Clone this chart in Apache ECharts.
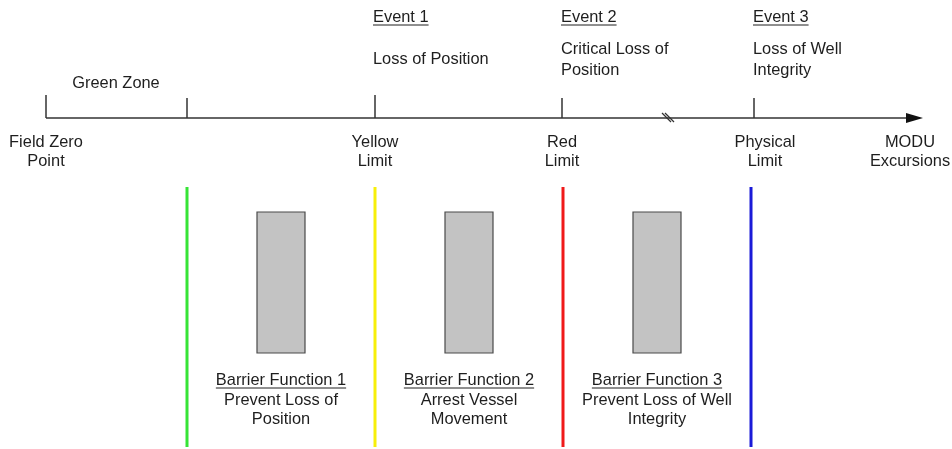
<!DOCTYPE html>
<html><head><meta charset="utf-8">
<script src="https://cdn.jsdelivr.net/npm/echarts@6/dist/echarts.min.js"></script>
<style>html,body{margin:0;padding:0;background:#fff}#c{width:952px;height:449px}</style>
</head><body><div id="c"></div>
<script>
// ---- data (diagram units on a 0..952 x 0..449 value plane) ----
const axisRange = [46, 923];
const axisLevel = [118];
const tickPositions = [46, 187, 375, 562, 754];
const tickTops = [95, 98, 95, 98, 98];
const tickLabels = ['Field Zero\nPoint', 'Yellow\nLimit', 'Red\nLimit', 'Physical\nLimit', 'MODU\nExcursions'];
const tickLabelPositions = [46, 375, 562, 765, 910];
const zoneLabels = ['Green Zone'];
const zoneLabelPositions = [116];
const eventTitles = ['Event 1', 'Event 2', 'Event 3'];
const eventDescriptions = ['Loss of Position', 'Critical Loss of\nPosition', 'Loss of Well\nIntegrity'];
const eventPositions = [373, 561, 753];
const breakPositions = [668];
const limitNames = ['Green', 'Yellow', 'Red', 'Physical'];
const limitPositions = [187, 375, 563, 751];
const limitSpan = [187, 447];
const barrierTitles = ['Barrier Function 1', 'Barrier Function 2', 'Barrier Function 3'];
const barrierDescriptions = ['Prevent Loss of\nPosition', 'Arrest Vessel\nMovement', 'Prevent Loss of Well\nIntegrity'];
const barrierStart = [257, 445, 633];
const barrierEnd = [305, 493, 681];
const barrierSpan = [212, 353];
const barrierLabelPositions = [281, 469, 657];

// ---- styles ----
const FONT_FAMILY = '"Liberation Sans", Arial, sans-serif';
const FONT_SIZE = 16.4;
const TEXT_COLOR = '#1e1e1e';
const LINE_COLOR = '#333333';
const LIMIT_COLORS = ['#36e436', '#f7ef0a', '#f01a1a', '#1a1ad8'];

const measureCtx = document.createElement('canvas').getContext('2d');
function textWidth(t) {
  measureCtx.font = FONT_SIZE + 'px ' + FONT_FAMILY;
  return measureCtx.measureText(t).width;
}
function txt(x, y, text, align, vAlign, lh) {
  return { type: 'text', x: x, y: y, style: {
    text: text, fill: TEXT_COLOR, fontSize: FONT_SIZE, fontFamily: FONT_FAMILY,
    align: align, verticalAlign: vAlign, lineHeight: lh || 20 } };
}
function seg(p1, p2, stroke, w) {
  return { type: 'line', shape: { x1: p1[0], y1: p1[1], x2: p2[0], y2: p2[1] },
    style: { stroke: stroke, lineWidth: w } };
}

const chart = echarts.init(document.getElementById('c'), null, { renderer: 'canvas' });

const series = [
  { // main excursion axis with arrow
    type: 'custom', clip: false, silent: true,
    data: [[axisRange[0], axisRange[1], axisLevel[0]]],
    renderItem: function (params, api) {
      const a = api.coord([api.value(0), api.value(2)]);
      const b = api.coord([api.value(1), api.value(2)]);
      return { type: 'group', children: [
        seg(a, [b[0] - 15, b[1]], LINE_COLOR, 1.5),
        { type: 'polygon', shape: { points: [[b[0], b[1]], [b[0] - 17, b[1] - 5], [b[0] - 17, b[1] + 5]] },
          style: { fill: '#111' } }
      ] };
    }
  },
  { // ticks
    type: 'custom', clip: false, silent: true,
    data: tickPositions.map((x, i) => [x, tickTops[i], axisLevel[0]]),
    renderItem: function (params, api) {
      const t = api.coord([api.value(0), api.value(1)]);
      const b = api.coord([api.value(0), api.value(2)]);
      return seg(t, b, LINE_COLOR, 1.5);
    }
  },
  { // axis break mark
    type: 'custom', clip: false, silent: true,
    data: breakPositions.map(x => [x, axisLevel[0]]),
    renderItem: function (params, api) {
      const c = api.coord([api.value(0), api.value(1)]);
      return { type: 'group', children: [
        seg([c[0] - 6, c[1] - 5], [c[0] + 3, c[1] + 4], LINE_COLOR, 1.2),
        seg([c[0] - 3, c[1] - 5], [c[0] + 6, c[1] + 4], LINE_COLOR, 1.2)
      ] };
    }
  },
  { // tick labels
    type: 'custom', clip: false, silent: true,
    data: tickLabelPositions.map((x, i) => [x, 152, i]),
    renderItem: function (params, api) {
      const p = api.coord([api.value(0), api.value(1)]);
      return txt(p[0], p[1], tickLabels[api.value(2)], 'center', 'middle', 19);
    }
  },
  { // zone labels
    type: 'custom', clip: false, silent: true,
    data: zoneLabelPositions.map((x, i) => [x, 83, i]),
    renderItem: function (params, api) {
      const p = api.coord([api.value(0), api.value(1)]);
      return txt(p[0], p[1], zoneLabels[api.value(2)], 'center', 'middle');
    }
  },
  { // events
    type: 'custom', clip: false, silent: true,
    data: eventPositions.map((x, i) => [x, 17.5, 59.5, i]),
    renderItem: function (params, api) {
      const i = api.value(3);
      const t = api.coord([api.value(0), api.value(1)]);
      const d = api.coord([api.value(0), api.value(2)]);
      const w = textWidth(eventTitles[i]);
      return { type: 'group', children: [
        txt(t[0], t[1], eventTitles[i], 'left', 'middle'),
        seg([t[0], t[1] + 7.5], [t[0] + w, t[1] + 7.5], TEXT_COLOR, 1),
        txt(d[0], d[1], eventDescriptions[i], 'left', 'middle', 21)
      ] };
    }
  },
  { // limit lines
    type: 'custom', clip: false, silent: true,
    data: limitPositions.map((x, i) => [x, limitSpan[0], limitSpan[1], i]),
    renderItem: function (params, api) {
      const t = api.coord([api.value(0), api.value(1)]);
      const b = api.coord([api.value(0), api.value(2)]);
      return seg(t, b, LIMIT_COLORS[api.value(3)], 3);
    }
  },
  { // barrier boxes
    type: 'custom', clip: false, silent: true,
    data: barrierStart.map((x, i) => [x, barrierEnd[i], barrierSpan[0], barrierSpan[1]]),
    renderItem: function (params, api) {
      const p1 = api.coord([api.value(0), api.value(2)]);
      const p2 = api.coord([api.value(1), api.value(3)]);
      return { type: 'rect', shape: { x: p1[0], y: p1[1], width: p2[0] - p1[0], height: p2[1] - p1[1] },
        style: { fill: '#c3c3c3', stroke: '#4a4a4a', lineWidth: 1.2 } };
    }
  },
  { // barrier labels
    type: 'custom', clip: false, silent: true,
    data: barrierLabelPositions.map((x, i) => [x, 380.5, 410, i]),
    renderItem: function (params, api) {
      const i = api.value(3);
      const t = api.coord([api.value(0), api.value(1)]);
      const d = api.coord([api.value(0), api.value(2)]);
      const w = textWidth(barrierTitles[i]);
      return { type: 'group', children: [
        txt(t[0], t[1], barrierTitles[i], 'center', 'middle'),
        seg([t[0] - w / 2, t[1] + 7.5], [t[0] + w / 2, t[1] + 7.5], TEXT_COLOR, 1),
        txt(d[0], d[1], barrierDescriptions[i], 'center', 'middle', 19)
      ] };
    }
  }
];

chart.setOption({
  backgroundColor: '#ffffff',
  animation: false,
  grid: { left: 0, right: 0, top: 0, bottom: 0 },
  xAxis: { type: 'value', min: 0, max: 952, show: false },
  yAxis: { type: 'value', min: 0, max: 449, inverse: true, show: false },
  series: series
});
</script></body></html>
